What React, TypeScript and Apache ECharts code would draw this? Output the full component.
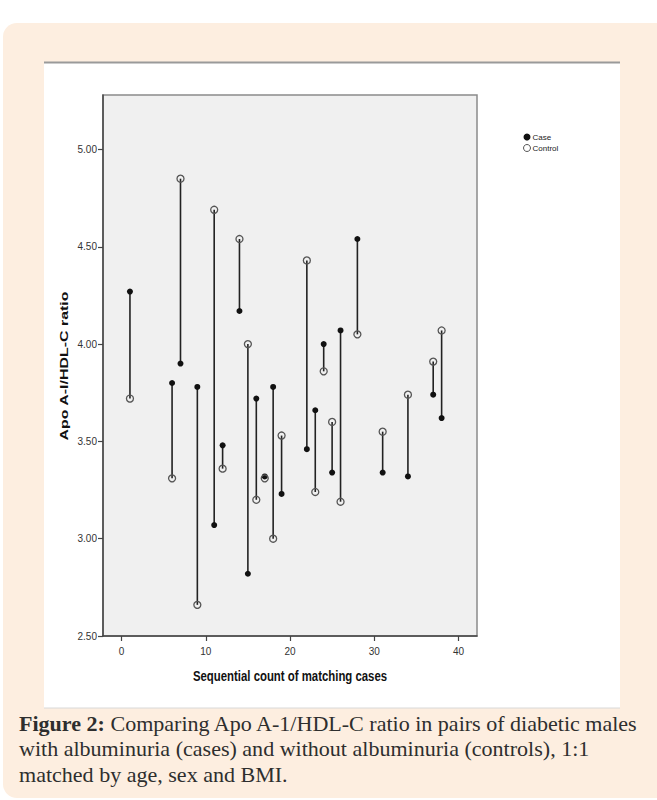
import React, { useEffect, useRef } from "react";
import * as echarts from "echarts";

const pairX = [1, 6, 7, 9, 11, 12, 14, 15, 16, 17, 18, 19, 22, 23, 24, 25, 26, 28, 31, 34, 37, 38];
const caseValues = [4.27, 3.8, 3.9, 3.78, 3.07, 3.48, 4.17, 2.82, 3.72, 3.32, 3.78, 3.23, 3.46, 3.66, 4.0, 3.34, 4.07, 4.54, 3.34, 3.32, 3.74, 3.62];
const controlValues = [3.72, 3.31, 4.85, 2.66, 4.69, 3.36, 4.54, 4.0, 3.2, 3.31, 3.0, 3.53, 4.43, 3.24, 3.86, 3.6, 3.19, 4.05, 3.55, 3.74, 3.91, 4.07];
const xTicks = [0, 10, 20, 30, 40];
const yTicks = [2.5, 3.0, 3.5, 4.0, 4.5, 5.0];
const seriesNames = ["Case", "Control"];
const xTitle = "Sequential count of matching cases";
const yTitle = "Apo A-I/HDL-C ratio";
const captionLines = [
  "Comparing Apo A-1/HDL-C ratio in pairs of diabetic males",
  "with albuminuria (cases) and without albuminuria (controls), 1:1",
  "matched by age, sex and BMI.",
];

const sansFont = "'Liberation Sans Narrow', 'Liberation Sans', Arial, sans-serif";
const serifFont = "'Liberation Serif', 'DejaVu Serif', serif";

export default function App() {
  const ref = useRef<HTMLDivElement>(null);
  useEffect(() => {
    if (!ref.current) return;
    const chart = echarts.init(ref.current, null, { renderer: "svg" });
    const pairs = pairX.map((x, i) => [x, caseValues[i], controlValues[i]]);
    const option: any = {
      animation: false,
      backgroundColor: "#ffffff",
      graphic: [
        { type: "rect", z: -20, shape: { x: 3, y: 23, width: 670, height: 775, r: 14 }, style: { fill: "#fdeee0" } },
        { type: "rect", z: -19, shape: { x: 44, y: 62, width: 576, height: 646 }, style: { fill: "#ffffff" } },
        { type: "line", z: -18, shape: { x1: 44, y1: 62.5, x2: 620, y2: 62.5 }, style: { stroke: "#9a9a9a", lineWidth: 2 } },
        { type: "line", z: -18, shape: { x1: 44, y1: 708, x2: 620, y2: 708 }, style: { stroke: "#d8d8d8", lineWidth: 1 } },
        {
          type: "text",
          x: 64,
          y: 366,
          rotation: Math.PI / 2,
          scaleX: 1.45,
          style: {
            text: yTitle,
            font: "bold 11px " + sansFont,
            fill: "#111",
            align: "center",
            verticalAlign: "middle",
          },
        },
        {
          type: "text",
          x: 290,
          y: 677,
          scaleY: 1.15,
          scaleX: 0.95,
          style: {
            text: xTitle,
            font: "bold 12px " + sansFont,
            fill: "#111",
            align: "center",
            verticalAlign: "middle",
          },
        },
        {
          type: "text",
          x: 19,
          y: 711,
          scaleX: 1.05,
          style: {
            text: "{b|Figure 2:} " + captionLines[0] + "\n" + captionLines[1] + "\n" + captionLines[2],
            font: "21px " + serifFont,
            fill: "#2e2e2e",
            lineHeight: 25.5,
            verticalAlign: "top",
            rich: {
              b: { fontWeight: "bold", fontSize: 21, fontFamily: serifFont, fill: "#2e2e2e", lineHeight: 25.5 },
            },
          },
        },
      ],
      legend: {
        orient: "vertical",
        left: 518,
        top: 128,
        itemWidth: 7,
        itemHeight: 7,
        itemGap: 3,
        textStyle: { fontSize: 8, fontFamily: sansFont, color: "#222", padding: [0, 0, 0, -3] },
        data: [
          { name: seriesNames[0], icon: "circle", itemStyle: { color: "#111" } },
          { name: seriesNames[1], icon: "circle", itemStyle: { color: "transparent", borderColor: "#555", borderWidth: 1 } },
        ],
      },
      grid: {
        left: 103,
        top: 95,
        right: 180,
        bottom: 164,
        show: true,
        backgroundColor: "#f0f0f0",
        borderColor: "#8a8a8a",
        borderWidth: 1.5,
      },
      xAxis: {
        type: "value",
        min: -2.2,
        max: 42.2,
        axisLine: { show: true, onZero: false, lineStyle: { color: "#444", width: 1.5 } },
        axisTick: { show: true, length: 5, customValues: xTicks, lineStyle: { color: "#444", width: 1.2 } },
        axisLabel: { customValues: xTicks, fontFamily: sansFont, fontSize: 10, color: "#333", margin: 10 },
        splitLine: { show: false },
      },
      yAxis: {
        type: "value",
        min: 2.5,
        max: 5.28,
        axisLine: { show: true, onZero: false, lineStyle: { color: "#444", width: 1.5 } },
        axisTick: { show: true, length: 5, customValues: yTicks, lineStyle: { color: "#444", width: 1.2 } },
        axisLabel: {
          customValues: yTicks,
          fontFamily: sansFont,
          fontSize: 10,
          color: "#333",
          margin: 6,
          formatter: (v: number) => v.toFixed(2),
        },
        splitLine: { show: false },
      },
      series: [
        {
          type: "custom",
          name: "pairs",
          silent: true,
          data: pairs,
          encode: { x: 0, y: [1, 2] },
          renderItem: (params: any, api: any) => {
            const p1 = api.coord([api.value(0), api.value(1)]);
            const p2 = api.coord([api.value(0), api.value(2)]);
            return {
              type: "line",
              shape: { x1: p1[0], y1: p1[1], x2: p2[0], y2: p2[1] },
              style: { stroke: "#222", lineWidth: 1.6 },
            };
          },
          z: 2,
        },
        {
          type: "scatter",
          name: seriesNames[0],
          data: pairX.map((x, i) => [x, caseValues[i]]),
          symbol: "circle",
          symbolSize: 6,
          itemStyle: { color: "#111", opacity: 1 },
          z: 3,
        },
        {
          type: "scatter",
          name: seriesNames[1],
          data: pairX.map((x, i) => [x, controlValues[i]]),
          symbol: "circle",
          symbolSize: 7,
          itemStyle: { color: "rgba(240,240,240,0)", borderColor: "#555", borderWidth: 1.3, opacity: 1 },
          z: 4,
        },
      ],
    };
    chart.setOption(option);
    return () => chart.dispose();
  }, []);
  return (
    <div
      ref={ref}
      style={{ position: "absolute", left: 0, top: 0, width: 657, height: 800 }}
    />
  );
}
